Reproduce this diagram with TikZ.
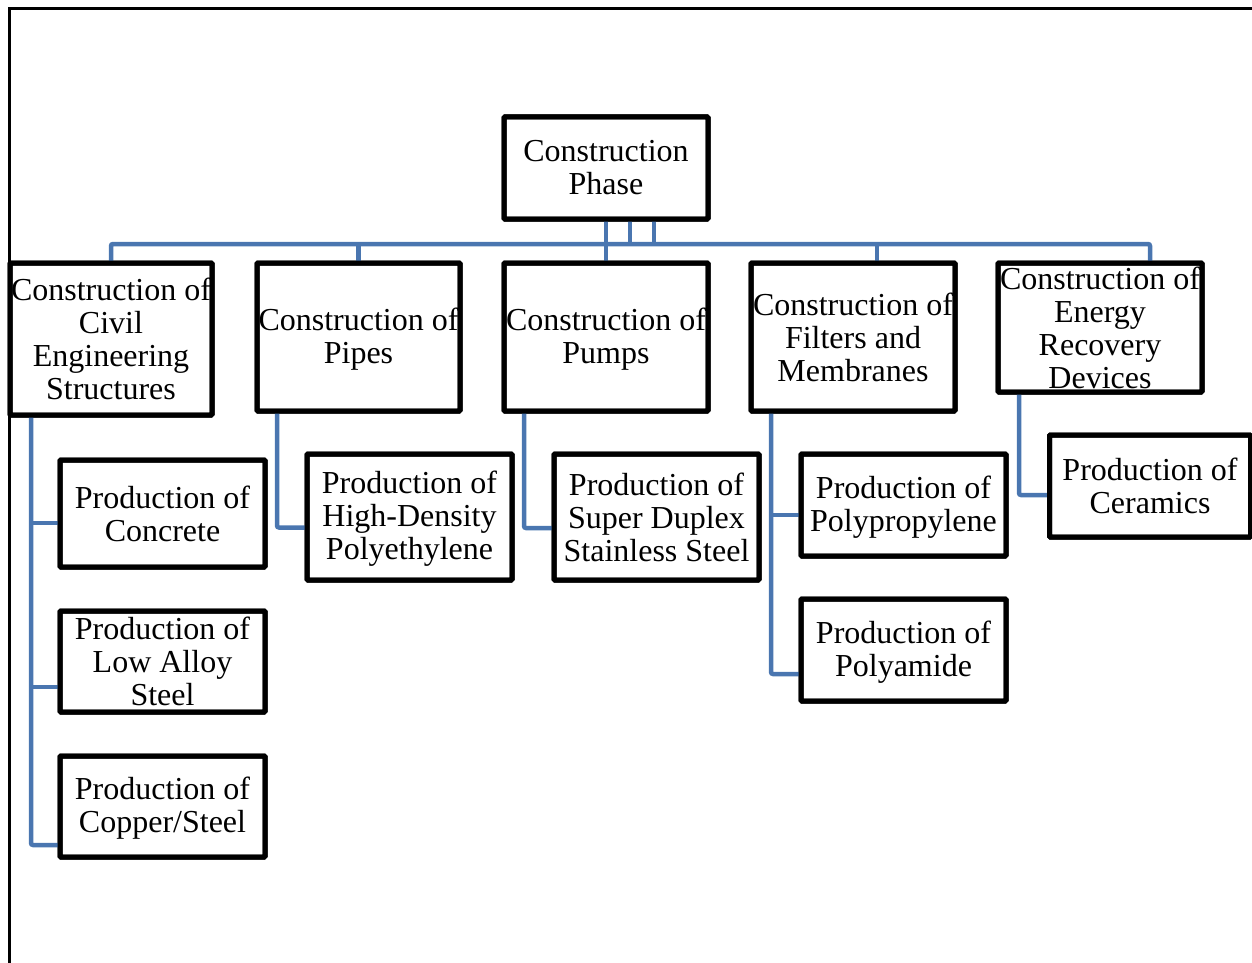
\documentclass[tikz,border=0pt]{standalone}
\usepackage{fontspec}
\setmainfont{Liberation Serif}
\usetikzlibrary{calc}
\definecolor{linkblue}{RGB}{74,118,176}
\begin{document}
\begin{tikzpicture}[x=1pt,y=-1pt,
  bx/.style={draw=black,line width=5pt,rounded corners=1pt,rectangle,inner sep=0pt,outer sep=0pt,fill=white},
  txt/.style={align=center,inner sep=0pt,font=\fontsize{32}{33}\selectfont},
  conn/.style={draw=linkblue,line width=4.5pt,rounded corners=2pt}]
\useasboundingbox (0,0) rectangle (1252,963);
% page frame
\draw[line width=3pt] (1252,9) -- (9,9) -- (9,963);

% top level
\node[bx,minimum width=204pt,minimum height=102pt] (root) at (606,168) {};
\node[txt] (root-t) at (root) {Construction\\Phase};

% second level
\node[bx,minimum width=202pt,minimum height=152pt] (civil) at (111,339) {};
\node[bx,minimum width=203pt,minimum height=148pt] (pipes) at (358.5,337) {};
\node[bx,minimum width=204pt,minimum height=148pt] (pumps) at (606,337) {};
\node[bx,minimum width=204pt,minimum height=148pt] (filters) at (853,337) {};
\node[bx,minimum width=204pt,minimum height=129pt] (energy) at (1100,327.5) {};

% third level
\node[bx,minimum width=205pt,minimum height=107pt] (concrete) at (162.5,513.5) {};
\node[bx,minimum width=205pt,minimum height=101pt] (lowalloy) at (162.5,661.5) {};
\node[bx,minimum width=205pt,minimum height=101pt] (copper) at (162.5,806.5) {};
\node[bx,minimum width=205pt,minimum height=126pt] (hdpe) at (409.5,517) {};
\node[bx,minimum width=205pt,minimum height=126pt] (sdss) at (656.5,517) {};
\node[bx,minimum width=205pt,minimum height=102pt] (pp) at (903.5,505) {};
\node[bx,minimum width=205pt,minimum height=102pt] (pa) at (903.5,650) {};
\node[bx,minimum width=201pt,minimum height=102pt] (ceramics) at (1150,486) {};

% connectors: root to second level
\coordinate (bus-w) at (111,244);
\coordinate (bus-e) at (1150,244);
\coordinate (r2) at ([xshift=24pt]root.south);
\coordinate (r3) at ([xshift=48pt]root.south);
\coordinate (f-top) at ([xshift=24pt]filters.north);
\draw[conn] (civil.north) -- (bus-w) -- (bus-e) -- (bus-e |- energy.north);
\draw[conn] (pipes.north) -- (pipes.north |- bus-w);
\draw[conn] (f-top) -- (f-top |- bus-w);
\draw[conn] (root.south) -- (pumps.north);
\draw[conn] (r2) -- (r2 |- bus-w);
\draw[conn] (r3) -- (r3 |- bus-w);

% connectors: second to third level
\coordinate (civil-tap) at ([xshift=21pt]civil.south west);
\draw[conn] (civil-tap) |- ($(copper.west)+(0,38.5)$);
\draw[conn] (civil-tap |- {$(concrete.west)+(0,9.5)$}) -- ($(concrete.west)+(0,9.5)$);
\draw[conn] (civil-tap |- {$(lowalloy.west)+(0,25.5)$}) -- ($(lowalloy.west)+(0,25.5)$);

\coordinate (pipes-tap) at ([xshift=20pt]pipes.south west);
\draw[conn] (pipes-tap) |- ($(hdpe.west)+(0,10.5)$);

\coordinate (pumps-tap) at ([xshift=20pt]pumps.south west);
\draw[conn] (pumps-tap) |- ($(sdss.west)+(0,11)$);

\coordinate (filters-tap) at ([xshift=20pt]filters.south west);
\draw[conn] (filters-tap) |- ($(pa.west)+(0,24)$);
\draw[conn] (filters-tap |- {$(pp.west)+(0,10)$}) -- ($(pp.west)+(0,10)$);

\coordinate (energy-tap) at ([xshift=21pt]energy.south west);
\draw[conn] (energy-tap) |- ($(ceramics.west)+(0,9)$);

% box outlines drawn over the connector ends
\foreach \n in {root,civil,pipes,pumps,filters,energy,concrete,lowalloy,copper,hdpe,sdss,pp,pa,ceramics}
  \draw[line width=5pt,rounded corners=1pt] (\n.south west) rectangle (\n.north east);

% labels
\node[txt] (civil-t) at (civil) {Construction of\\Civil\\Engineering\\Structures};
\node[txt] (pipes-t) at ([yshift=-2pt]pipes) {Construction of\\Pipes};
\node[txt] (pumps-t) at ([yshift=-2pt]pumps) {Construction of\\Pumps};
\node[txt] (filters-t) at (filters) {Construction of\\Filters and\\Membranes};
\node[txt] (energy-t) at (energy) {Construction of\\Energy\\Recovery\\Devices};
\node[txt] (concrete-t) at (concrete) {Production of\\Concrete};
\node[txt] (lowalloy-t) at (lowalloy) {Production of\\Low Alloy\\Steel};
\node[txt] (copper-t) at ([yshift=-2pt]copper) {Production of\\Copper/Steel};
\node[txt] (hdpe-t) at ([yshift=-2pt]hdpe) {Production of\\High-Density\\Polyethylene};
\node[txt] (sdss-t) at (sdss) {Production of\\Super Duplex\\Stainless Steel};
\node[txt] (pp-t) at ([yshift=-2pt]pp) {Production of\\Polypropylene};
\node[txt] (pa-t) at ([yshift=-2pt]pa) {Production of\\Polyamide};
\node[txt] (ceramics-t) at (ceramics) {Production of\\Ceramics};
\end{tikzpicture}
\end{document}
